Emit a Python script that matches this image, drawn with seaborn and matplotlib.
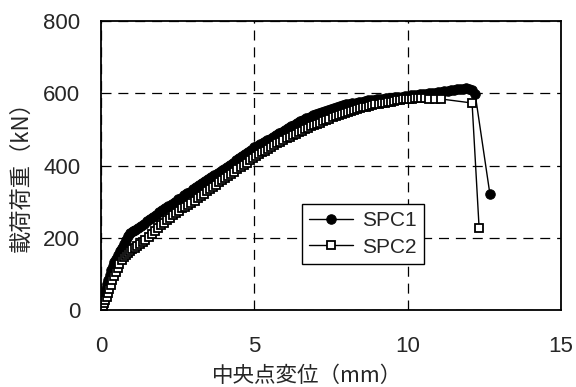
import matplotlib
matplotlib.use("Agg")
import matplotlib.pyplot as plt
import seaborn as sns
import pandas as pd

# ---- data ----
spc1_x = [0, 0.02, 0.05, 0.08, 0.11, 0.15, 0.19, 0.23, 0.28, 0.33, 0.38, 0.44, 0.5, 0.56, 0.62,
          0.68, 0.75, 0.82, 0.89, 0.96, 1.03, 1.1, 1.2, 1.3, 1.4, 1.5, 1.6, 1.7, 1.8, 1.9,
          2.0, 2.1, 2.2, 2.3, 2.4, 2.5, 2.6, 2.7, 2.8, 2.9, 3.0, 3.1, 3.2, 3.3, 3.4,
          3.5, 3.6, 3.7, 3.8, 3.9, 4.0, 4.1, 4.2, 4.3, 4.4, 4.5, 4.6, 4.7, 4.8, 4.9,
          5.0, 5.1, 5.2, 5.3, 5.4, 5.5, 5.6, 5.7, 5.8, 5.9, 6.0, 6.1, 6.2, 6.3, 6.4,
          6.5, 6.6, 6.7, 6.8, 6.9, 7.0, 7.1, 7.2, 7.3, 7.4, 7.5, 7.6, 7.7, 7.8, 7.9,
          8.0, 8.1, 8.2, 8.3, 8.4, 8.5, 8.6, 8.7, 8.8, 8.9, 9.0, 9.1, 9.2, 9.3, 9.4,
          9.5, 9.6, 9.7, 9.8, 9.9, 10.0, 10.1, 10.2, 10.3, 10.4, 10.5, 10.6, 10.7, 10.8, 10.9,
          11.0, 11.1, 11.2, 11.3, 11.4, 11.5, 11.6, 11.7, 11.8, 11.9, 12.0, 12.1, 12.2, 12.68]
spc1_y = [0, 8, 20, 32, 44, 58, 72, 84, 98, 111, 122, 133, 142, 152, 162,
          172, 183, 194, 205, 214, 219, 222, 226, 232, 239, 246, 252, 258, 264, 270,
          276, 282, 288, 294, 300, 306, 311, 317, 323, 328, 334, 340, 346, 352, 358,
          363, 368, 374, 379, 384, 390, 396, 402, 408, 414, 420, 426, 432, 438, 444,
          450, 455, 460, 465, 470, 474, 479, 484, 489, 494, 498, 503, 508, 513, 518,
          522, 526, 531, 535, 539, 543, 546, 549, 552, 555, 557, 560, 562, 564, 567,
          569, 571, 572, 574, 576, 577, 578, 580, 581, 582, 583, 584, 585, 586, 587,
          588, 589, 590, 591, 592, 593, 594, 595, 596, 597, 598, 599, 600, 601, 602,
          603, 604, 606, 607, 608, 610, 611, 612, 613, 614, 613, 609, 598, 322]

spc2_x = [0, 0.03, 0.06, 0.1, 0.14, 0.18, 0.22, 0.27, 0.32, 0.37, 0.42, 0.48, 0.54, 0.6, 0.67,
          0.74, 0.81, 0.88, 0.95, 1.02, 1.1, 1.18, 1.27, 1.36, 1.45, 1.55, 1.65, 1.75, 1.85, 1.95,
          2.05, 2.15, 2.25, 2.35, 2.45, 2.55, 2.65, 2.75, 2.85, 2.95, 3.05, 3.15, 3.25, 3.35, 3.45,
          3.55, 3.65, 3.75, 3.85, 3.95, 4.05, 4.15, 4.25, 4.35, 4.45, 4.55, 4.65, 4.75, 4.85, 4.95,
          5.05, 5.15, 5.25, 5.35, 5.45, 5.55, 5.65, 5.75, 5.85, 5.95, 6.05, 6.15, 6.25, 6.35, 6.45,
          6.55, 6.65, 6.75, 6.85, 6.95, 7.05, 7.15, 7.25, 7.35, 7.45, 7.55, 7.65, 7.75, 7.85, 7.95,
          8.05, 8.15, 8.25, 8.35, 8.45, 8.55, 8.65, 8.75, 8.85, 8.95, 9.05, 9.15, 9.25, 9.35, 9.45,
          9.55, 9.65, 9.75, 9.85, 9.95, 10.05, 10.15, 10.25, 10.35, 10.45, 10.55, 10.7, 10.9, 11.1,
          12.1, 12.33]
spc2_y = [0, 6, 12, 20, 28, 36, 46, 58, 70, 82, 94, 106, 117, 128, 138,
          146, 153, 159, 164, 168, 173, 178, 183, 189, 195, 202, 210, 218, 226, 234,
          242, 249, 256, 263, 269, 275, 281, 286, 291, 297, 303, 309, 315, 322, 329,
          335, 341, 347, 353, 359, 365, 371, 377, 383, 389, 395, 401, 408, 415, 421,
          426, 431, 436, 441, 446, 451, 456, 461, 466, 471, 475, 480, 484, 488, 492,
          496, 500, 504, 508, 512, 515, 519, 522, 526, 529, 533, 536, 539, 542, 546,
          549, 551, 554, 556, 558, 561, 563, 565, 567, 569, 571, 572, 574, 576, 577,
          579, 580, 581, 583, 584, 585, 585, 586, 586, 586, 586, 585, 585, 584,
          573, 227]

series_names = ["SPC1", "SPC2"]
x_ticks = [0, 5, 10, 15]
y_ticks = [0, 200, 400, 600, 800]
x_label = "中央点変位（mm）"
y_label = "載荷荷重（kN）"

df1 = pd.DataFrame({"x": spc1_x, "y": spc1_y})
df2 = pd.DataFrame({"x": spc2_x, "y": spc2_y})

sns.set_style("white")
plt.rcParams["font.family"] = ["Liberation Sans", "Noto Sans CJK JP", "DejaVu Sans"]

fig = plt.figure(figsize=(5.76, 3.87), dpi=100)
ax = fig.add_axes([101 / 576, 1 - 310 / 387, 460 / 576, 289 / 387])

sns.lineplot(data=df1, x="x", y="y", ax=ax, sort=False, estimator=None,
             color="black", linewidth=1.0, marker="o", markersize=6.8,
             markerfacecolor="black", markeredgecolor="black", label=series_names[0])
sns.lineplot(data=df2, x="x", y="y", ax=ax, sort=False, estimator=None,
             color="black", linewidth=1.0, marker="s", markersize=6.2,
             markerfacecolor="white", markeredgecolor="black", markeredgewidth=1.3,
             label=series_names[1])

ax.set_xlim(0, 15)
ax.set_ylim(0, 800)
ax.set_xticks(x_ticks)
ax.set_yticks(y_ticks)
ax.tick_params(axis="both", length=0, labelsize=16)
ax.tick_params(axis="x", pad=19)
ax.tick_params(axis="y", pad=15)
ax.grid(True, color="black", linestyle=(0, (8, 5.5)), linewidth=0.9)
for s in ax.spines.values():
    s.set_color("black")
    s.set_linewidth(1.3)

ax.set_xlabel(x_label, fontsize=15.5, family=["Noto Sans CJK JP"])
ax.xaxis.set_label_coords(111 / 460, -0.19, transform=ax.transAxes)
ax.xaxis.label.set_verticalalignment("top")
ax.xaxis.label.set_horizontalalignment("left")
ax.set_ylabel(y_label, fontsize=16, family=["Noto Sans CJK JP"])
ax.yaxis.set_label_coords(-0.148, 0.481, transform=ax.transAxes)

leg = ax.legend(loc="upper left", bbox_to_anchor=(201 / 460, 1 - 183 / 289),
                borderaxespad=0, fancybox=False, frameon=True, fontsize=15,
                handlelength=2.1, handletextpad=0.45, borderpad=0.35, labelspacing=0.35)
leg.get_frame().set_edgecolor("black")
leg.get_frame().set_linewidth(1.0)
leg.get_frame().set_alpha(1)

fig.savefig("out.png", dpi=100)
